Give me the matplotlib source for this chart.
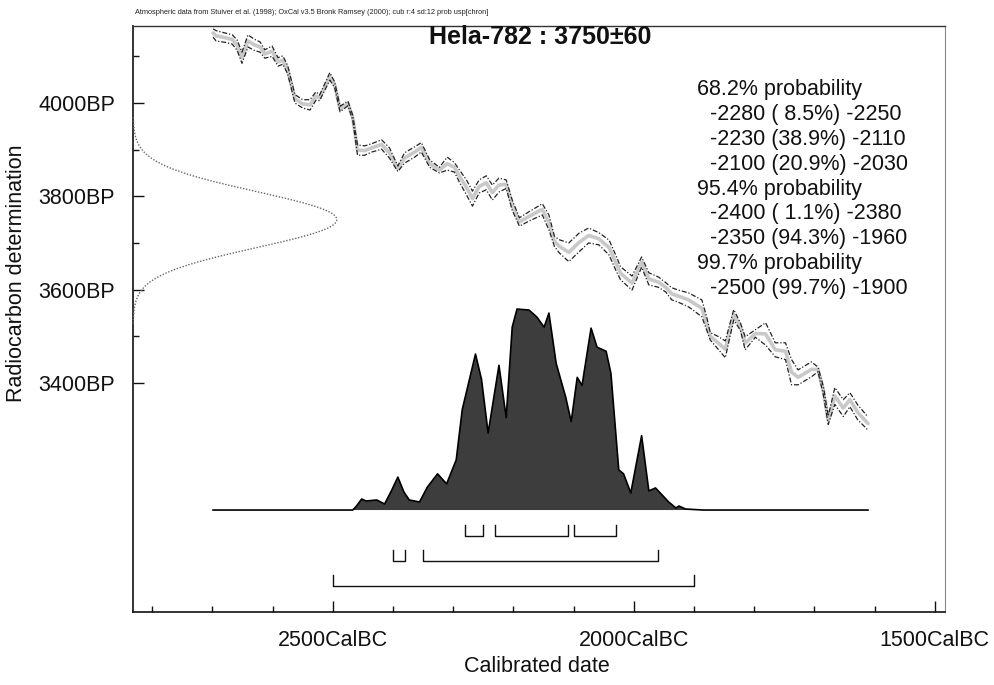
import numpy as np
import matplotlib
matplotlib.use("Agg")
import matplotlib.pyplot as plt
from matplotlib.ticker import FixedLocator, NullFormatter

plt.rcParams['font.family'] = ['Liberation Sans', 'DejaVu Sans']

# ---- Calibration curve (cal years BC, radiocarbon age BP, 1-sigma BP) ----
curve_bc = [2699, 2694, 2679, 2667, 2659, 2651, 2641, 2631, 2621, 2613, 2601, 2591,
            2583, 2575, 2563, 2550, 2538, 2528, 2522, 2505, 2497, 2488, 2475, 2467,
            2459, 2447, 2435, 2419, 2406, 2392, 2381, 2364, 2353, 2339, 2323, 2310,
            2298, 2290, 2278, 2268, 2257, 2245, 2235, 2224, 2212, 2202, 2190, 2174,
            2152, 2141, 2132, 2124, 2108, 2091, 2075, 2058, 2041, 2030, 2022, 2003,
            1987, 1975, 1959, 1947, 1937, 1926, 1909, 1887, 1879, 1873, 1859, 1848,
            1834, 1823, 1815, 1798, 1781, 1765, 1748, 1738, 1727, 1705, 1694, 1685,
            1677, 1666, 1652, 1641, 1628, 1611]
curve_bp = [4150, 4144, 4140, 4136, 4124, 4097, 4133, 4125, 4120, 4105, 4111, 4088,
            4092, 4071, 4009, 3998, 3996, 4015, 4011, 4057, 4039, 3987, 3999, 3969,
            3899, 3898, 3904, 3911, 3893, 3859, 3882, 3895, 3905, 3870, 3856, 3870,
            3862, 3844, 3819, 3795, 3821, 3829, 3808, 3824, 3826, 3781, 3745, 3757,
            3772, 3744, 3704, 3693, 3680, 3701, 3716, 3709, 3690, 3658, 3635, 3614,
            3659, 3623, 3616, 3605, 3591, 3586, 3578, 3560, 3528, 3500, 3485, 3472,
            3546, 3521, 3485, 3506, 3505, 3471, 3468, 3423, 3412, 3429, 3429, 3383,
            3320, 3372, 3346, 3364, 3337, 3313]
curve_err = [9, 11, 10, 10, 11, 12, 13, 12, 11, 9, 11, 9,
             9, 9, 9, 9, 11, 9, 6, 8, 6, 6, 5, 5,
             11, 10, 9, 10, 11, 6, 11, 11, 10, 8, 6, 14,
             10, 13, 16, 16, 14, 15, 16, 15, 9, 11, 9, 10,
             12, 16, 11, 14, 20, 20, 16, 13, 16, 16, 14, 15,
             11, 13, 11, 10, 13, 13, 15, 18, 14, 8, 14, 18,
             11, 8, 14, 8, 24, 15, 18, 27, 16, 16, 5, 9,
             9, 18, 18, 15, 16, 14]

# ---- Calibrated date probability (cal years BC, relative probability) ----
prob_bc = [2699, 2467, 2462, 2452, 2445, 2427, 2414, 2402, 2392, 2382, 2373, 2356,
           2343, 2326, 2311, 2295, 2285, 2263, 2253, 2242, 2224, 2212, 2202, 2194,
           2174, 2161, 2149, 2141, 2129, 2113, 2104, 2094, 2086, 2071, 2061, 2046,
           2038, 2025, 2017, 2005, 1987, 1975, 1964, 1942, 1930, 1925, 1914, 1884, 1611]
prob_rel = [0.0, 0.0, 0.015, 0.055, 0.045, 0.05, 0.03, 0.10, 0.164, 0.09, 0.05, 0.04,
            0.114, 0.18, 0.13, 0.25, 0.50, 0.776, 0.65, 0.383, 0.72, 0.46, 0.91, 1.0,
            0.995, 0.96, 0.91, 0.98, 0.73, 0.56, 0.44, 0.66, 0.62, 0.905, 0.81, 0.79,
            0.68, 0.20, 0.18, 0.085, 0.37, 0.095, 0.11, 0.04, 0.01, 0.02, 0.005, 0.0, 0.0]

# ---- Radiocarbon determination ----
C14_MEAN = 3750
C14_SD = 60

# ---- Calibrated ranges (years, negative = BC) ----
ranges_68 = [(-2280, -2250), (-2230, -2110), (-2100, -2030)]
ranges_95 = [(-2400, -2380), (-2350, -1960)]
ranges_99 = [(-2500, -1900)]

# ---- Text ----
title_text = "Hela-782 : 3750\u00b160"
header_text = ("Atmospheric data from Stuiver et al. (1998); OxCal v3.5 Bronk Ramsey (2000); "
               "cub r:4 sd:12 prob usp[chron]")
result_lines = [
    ("68.2% probability", 0),
    ("-2280 ( 8.5%) -2250", 1),
    ("-2230 (38.9%) -2110", 1),
    ("-2100 (20.9%) -2030", 1),
    ("95.4% probability", 0),
    ("-2400 ( 1.1%) -2380", 1),
    ("-2350 (94.3%) -1960", 1),
    ("99.7% probability", 0),
    ("-2500 (99.7%) -1900", 1),
]
x_major = [-2500, -2000, -1500]
x_major_labels = ["2500CalBC", "2000CalBC", "1500CalBC"]
x_minor = [-2800, -2700, -2600, -2400, -2300, -2200, -2100, -1900, -1800, -1700, -1600]
y_major = [3400, 3600, 3800, 4000]
y_major_labels = ["3400BP", "3600BP", "3800BP", "4000BP"]
y_minor = [3500, 3700, 3900, 4100]

W, H = 995, 685
fig = plt.figure(figsize=(W / 100, H / 100), dpi=100)
ax = fig.add_axes([133 / W, 1 - 612 / H, (945 - 133) / W, (612 - 26) / H])

cx = -np.array(curve_bc, dtype=float)
cy = np.array(curve_bp, dtype=float)
ce = np.array(curve_err, dtype=float)

# calibration curve
ax.plot(cx, cy, color='#c9c9c9', lw=2.6, solid_capstyle='round', zorder=2)
ax.plot(cx, cy + ce, color='#222222', lw=0.9, ls=(0, (4, 1.5, 1, 1.5)), zorder=3)
ax.plot(cx, cy - ce, color='#222222', lw=0.9, ls=(0, (4, 1.5, 1, 1.5)), zorder=3)

# radiocarbon gaussian on the y axis (x in axes fraction)
gy = np.linspace(C14_MEAN - 3.7 * C14_SD, C14_MEAN + 3.7 * C14_SD, 400)
gx = 0.251 * np.exp(-0.5 * ((gy - C14_MEAN) / C14_SD) ** 2)
ax.plot(gx, gy, transform=ax.get_yaxis_transform(), color='#666666', lw=1.0,
        ls=(0, (1, 1.2)), zorder=3, clip_on=False)

# calibrated distribution (y in axes fraction)
trans = ax.get_xaxis_transform()
base = 0.174
hscale = 0.343
px = -np.array(prob_bc, dtype=float)
py = base + hscale * np.array(prob_rel)
ax.fill(np.concatenate([px, px[::-1]]), np.concatenate([py, np.full_like(py, base)]),
        transform=trans, color='#3d3d3d', lw=0, zorder=4)
ax.plot(px, py, transform=trans, color='black', lw=1.2, zorder=5)

# range brackets
def brackets(ranges, ybot, ytop):
    for a, b in ranges:
        ax.plot([a, a, b, b], [ytop, ybot, ybot, ytop], transform=trans,
                color='#111111', lw=1.0, zorder=5)

brackets(ranges_68, 0.130, 0.149)
brackets(ranges_95, 0.087, 0.106)
brackets(ranges_99, 0.044, 0.063)

ax.set_xlim(-2832, -1483)
ax.set_ylim(2909, 4165)

ax.xaxis.set_major_locator(FixedLocator(x_major))
ax.set_xticklabels(x_major_labels)
ax.xaxis.set_minor_locator(FixedLocator(x_minor))
ax.yaxis.set_major_locator(FixedLocator(y_major))
ax.set_yticklabels(y_major_labels)
ax.yaxis.set_minor_locator(FixedLocator(y_minor))
ax.xaxis.set_minor_formatter(NullFormatter())
ax.yaxis.set_minor_formatter(NullFormatter())

ax.tick_params(axis='both', which='major', direction='in', length=8, width=1.0,
               labelsize=15.5, colors='#111111')
ax.tick_params(axis='both', which='minor', direction='in', length=4, width=1.0,
               colors='#111111')
ax.tick_params(axis='x', which='major', pad=13)
ax.tick_params(axis='y', which='major', pad=13)

for side in ['left', 'bottom']:
    ax.spines[side].set_color('#111111')
    ax.spines[side].set_linewidth(1.2)
ax.spines['top'].set_color('#333333')
ax.spines['top'].set_linewidth(1.0)
ax.spines['right'].set_color('#888888')
ax.spines['right'].set_linewidth(0.8)

# texts
fig.text(540 / W, 1 - 37 / H, title_text, ha='center', va='center',
         fontsize=18, fontweight='bold', color='#111111')
fig.text(135 / W, 1 - 12 / H, header_text, ha='left', va='center', fontsize=5.3,
         color='#222222')
for i, (line, indent) in enumerate(result_lines):
    x0 = 710 if indent else 697
    fig.text(x0 / W, 1 - (90 + 24.8 * i) / H, line, ha='left', va='center',
             fontsize=15.5, color='#111111')

fig.text(17 / W, 1 - 273 / H, "Radiocarbon determination", rotation=90,
         ha='center', va='center', fontsize=15.5, color='#111111')
fig.text(537 / W, 1 - 666 / H, "Calibrated date", ha='center', va='center',
         fontsize=15.5, color='#111111')

fig.savefig("out.png", dpi=100, facecolor='white')
